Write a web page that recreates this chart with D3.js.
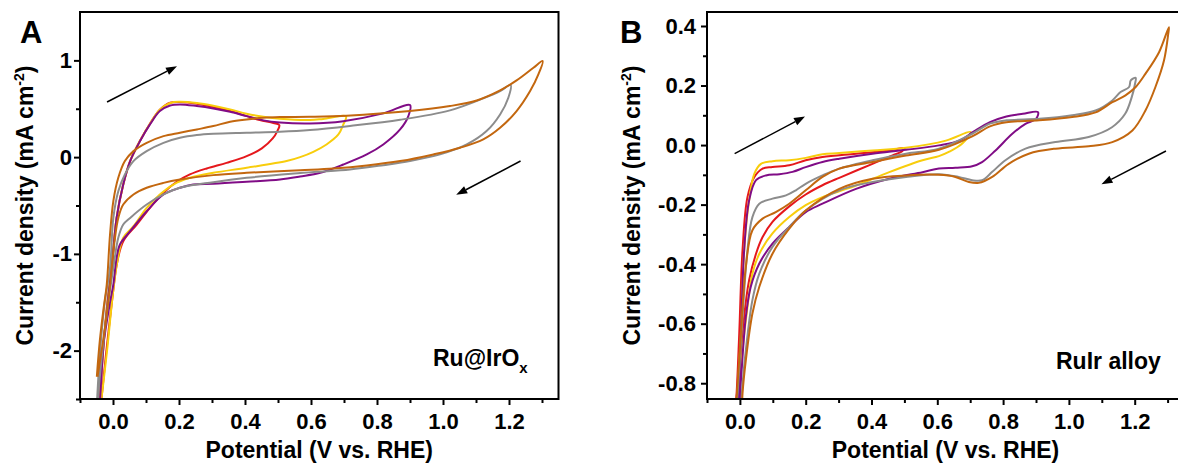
<!DOCTYPE html>
<html>
<head>
<meta charset="utf-8">
<script src="https://cdn.jsdelivr.net/npm/d3@7"></script>
<style>
  body { margin: 0; background: #fff; }
  svg text { font-family: "Liberation Sans", Arial, sans-serif; font-weight: bold; fill: #000; }
</style>
</head>
<body>
<svg id="chart" width="1178" height="463"></svg>
<script>
// ---- data: [potential (V vs. RHE), current density (mA cm-2)] ----
const COLORS = { red: '#e5181c', yellow: '#f8cd0c', purple: '#800c86', gray: '#8c8c8c', orange: '#c3670f' };

// Panel A: Ru@IrOx
const A_RED = [[-0.040,-2.5],[-0.030,-2.0],[-0.017,-1.5],[-0.004,-1.145],[0.011,-0.627],[0.031,-0.283],[0.052,-0.041],[0.082,0.17],[0.112,0.345],[0.142,0.49],[0.173,0.562],[0.203,0.569],[0.254,0.552],[0.304,0.517],[0.355,0.476],[0.405,0.424],[0.445,0.383],[0.486,0.352],[0.504,0.331],
  [0.498,0.269],[0.484,0.193],[0.451,0.09],[0.405,0.01],[0.344,-0.059],[0.284,-0.117],[0.233,-0.179],[0.193,-0.255],[0.153,-0.369],[0.112,-0.524],[0.072,-0.697],[0.031,-0.869],[0.012,-1.1],[0.0,-1.4],[-0.02,-2.0],[-0.035,-2.5]];
const A_YELLOW = [[-0.040,-2.5],[-0.030,-2.0],[-0.017,-1.5],[-0.004,-1.145],[0.011,-0.627],[0.031,-0.283],[0.052,-0.041],[0.082,0.17],[0.112,0.345],[0.142,0.49],[0.173,0.56],[0.203,0.572],[0.254,0.559],[0.304,0.531],[0.355,0.493],[0.405,0.448],[0.456,0.417],[0.506,0.396],[0.597,0.383],[0.637,0.395],[0.706,0.421],
  [0.698,0.338],[0.683,0.234],[0.647,0.131],[0.607,0.055],[0.567,0.0],[0.526,-0.041],[0.405,-0.11],[0.304,-0.162],[0.233,-0.214],[0.183,-0.283],[0.142,-0.386],[0.102,-0.524],[0.062,-0.714],[0.031,-0.834],[0.012,-1.1],[0.0,-1.4],[-0.018,-2.0],[-0.035,-2.5]];
const A_PURPLE = [[-0.039,-2.5],[-0.030,-2.0],[-0.016,-1.5],[-0.004,-1.145],[0.011,-0.627],[0.031,-0.283],[0.052,-0.041],[0.082,0.166],[0.112,0.338],[0.142,0.476],[0.173,0.534],[0.203,0.545],[0.254,0.528],[0.304,0.503],[0.355,0.469],[0.405,0.424],[0.456,0.38],[0.506,0.358],[0.597,0.348],[0.698,0.372],[0.819,0.452],[0.9,0.538],
  [0.895,0.424],[0.87,0.286],[0.819,0.131],[0.769,0.028],[0.698,-0.076],[0.628,-0.162],[0.567,-0.2],[0.506,-0.231],[0.405,-0.255],[0.304,-0.276],[0.243,-0.283],[0.203,-0.317],[0.153,-0.386],[0.102,-0.559],[0.052,-0.766],[0.021,-0.903],[0.011,-1.041],[0.001,-1.317],[-0.009,-1.5],[-0.031,-2.0],[-0.039,-2.5]];
const A_GRAY = [[-0.048,-2.5],[-0.039,-2.0],[-0.025,-1.5],[-0.009,-1.145],[0.001,-0.627],[0.016,-0.352],[0.036,-0.179],[0.062,-0.041],[0.102,0.062],[0.153,0.148],[0.203,0.2],[0.254,0.228],[0.304,0.241],[0.405,0.252],[0.506,0.262],[0.597,0.28],[0.718,0.322],[0.87,0.386],[1.021,0.483],[1.122,0.607],[1.173,0.683],[1.205,0.745],
  [1.198,0.614],[1.173,0.441],[1.132,0.269],[1.072,0.131],[0.991,0.028],[0.9,-0.041],[0.819,-0.083],[0.718,-0.128],[0.617,-0.152],[0.567,-0.165],[0.405,-0.214],[0.304,-0.259],[0.203,-0.317],[0.153,-0.386],[0.102,-0.49],[0.052,-0.628],[0.031,-0.697],[0.016,-0.834],[0.001,-1.145],[-0.018,-1.6],[-0.035,-2.1],[-0.046,-2.5]];
const A_ORANGE = [[-0.049,-2.27],[-0.040,-1.9],[-0.028,-1.55],[-0.019,-1.32],[-0.009,-0.8],[0.001,-0.455],[0.016,-0.214],[0.036,-0.041],[0.062,0.062],[0.102,0.148],[0.153,0.217],[0.203,0.252],[0.254,0.286],[0.304,0.321],[0.355,0.366],[0.405,0.39],[0.456,0.407],[0.506,0.414],[0.597,0.417],[0.708,0.428],[0.9,0.476],[1.021,0.528],[1.102,0.586],[1.173,0.69],[1.223,0.793],[1.274,0.924],[1.302,0.993],
  [1.289,0.855],[1.264,0.683],[1.223,0.476],[1.173,0.303],[1.122,0.183],[1.052,0.097],[0.971,0.028],[0.87,-0.041],[0.769,-0.086],[0.668,-0.117],[0.567,-0.135],[0.405,-0.162],[0.304,-0.186],[0.203,-0.231],[0.153,-0.266],[0.102,-0.317],[0.062,-0.386],[0.031,-0.49],[0.016,-0.628],[0.006,-0.834],[-0.004,-1.145],[-0.014,-1.49],[-0.030,-1.9],[-0.047,-2.27]];

// Panel B: RuIr alloy
const B_RED = [[-0.012,-0.86],[-0.010,-0.834],[-0.002,-0.633],[0.008,-0.353],[0.023,-0.175],[0.044,-0.107],[0.069,-0.079],[0.099,-0.074],[0.15,-0.068],[0.2,-0.051],[0.251,-0.04],[0.353,-0.029],[0.454,-0.018],[0.5,-0.01],
  [0.494,-0.02],[0.464,-0.035],[0.403,-0.063],[0.302,-0.11],[0.251,-0.135],[0.2,-0.166],[0.15,-0.206],[0.099,-0.258],[0.069,-0.309],[0.049,-0.365],[0.028,-0.454],[0.013,-0.577],[-0.002,-0.834],[-0.004,-0.86]];
const B_YELLOW = [[-0.009,-0.86],[-0.007,-0.834],[0.003,-0.633],[0.013,-0.353],[0.028,-0.186],[0.044,-0.096],[0.064,-0.063],[0.099,-0.054],[0.15,-0.051],[0.2,-0.043],[0.251,-0.031],[0.302,-0.027],[0.403,-0.018],[0.505,-0.009],[0.626,0.015],[0.701,0.044],
  [0.676,0.005],[0.635,-0.023],[0.605,-0.037],[0.555,-0.051],[0.454,-0.091],[0.353,-0.136],[0.302,-0.155],[0.251,-0.175],[0.2,-0.202],[0.15,-0.242],[0.099,-0.297],[0.059,-0.365],[0.038,-0.432],[0.023,-0.544],[0.008,-0.689],[-0.002,-0.834],[-0.004,-0.86]];
const B_PURPLE = [[-0.006,-0.86],[-0.004,-0.834],[0.003,-0.633],[0.013,-0.353],[0.028,-0.186],[0.049,-0.118],[0.079,-0.102],[0.12,-0.098],[0.16,-0.09],[0.2,-0.074],[0.251,-0.057],[0.302,-0.046],[0.403,-0.029],[0.505,-0.016],[0.605,-0.001],[0.669,0.016],[0.709,0.044],[0.76,0.077],[0.81,0.096],[0.86,0.105],[0.906,0.111],
  [0.9,0.088],[0.868,0.071],[0.828,0.038],[0.777,-0.018],[0.736,-0.057],[0.706,-0.071],[0.655,-0.076],[0.605,-0.079],[0.555,-0.091],[0.454,-0.113],[0.353,-0.147],[0.251,-0.197],[0.2,-0.225],[0.15,-0.275],[0.099,-0.331],[0.059,-0.398],[0.033,-0.476],[0.018,-0.577],[0.006,-0.745],[0.001,-0.834],[0.0,-0.86]];
const B_GRAY = [[-0.009,-0.86],[-0.007,-0.834],[0.008,-0.577],[0.023,-0.353],[0.038,-0.242],[0.059,-0.197],[0.099,-0.18],[0.14,-0.169],[0.17,-0.152],[0.2,-0.13],[0.251,-0.102],[0.302,-0.079],[0.403,-0.051],[0.505,-0.029],[0.605,-0.012],[0.706,0.038],[0.76,0.072],[0.81,0.083],[0.91,0.088],[1.01,0.1],[1.081,0.116],[1.132,0.15],[1.157,0.178],[1.183,0.195],[1.188,0.217],[1.203,0.226],
  [1.201,0.206],[1.191,0.161],[1.171,0.105],[1.131,0.06],[1.06,0.027],[0.959,0.01],[0.868,-0.012],[0.807,-0.051],[0.767,-0.09],[0.736,-0.118],[0.706,-0.118],[0.665,-0.107],[0.605,-0.098],[0.505,-0.107],[0.403,-0.124],[0.302,-0.152],[0.2,-0.22],[0.15,-0.275],[0.099,-0.342],[0.059,-0.432],[0.038,-0.521],[0.018,-0.689],[0.006,-0.834],[0.005,-0.86]];
const B_ORANGE = [[-0.011,-0.86],[-0.009,-0.834],[0.003,-0.633],[0.018,-0.409],[0.038,-0.286],[0.069,-0.247],[0.109,-0.225],[0.15,-0.197],[0.2,-0.152],[0.251,-0.107],[0.302,-0.079],[0.403,-0.057],[0.505,-0.035],[0.605,-0.016],[0.706,0.029],[0.76,0.063],[0.81,0.077],[0.91,0.083],[1.01,0.094],[1.081,0.11],[1.132,0.144],[1.172,0.167],[1.203,0.195],[1.233,0.24],[1.274,0.312],[1.304,0.396],
  [1.302,0.374],[1.289,0.284],[1.263,0.195],[1.233,0.117],[1.193,0.049],[1.132,0.01],[1.06,-0.004],[0.959,-0.012],[0.878,-0.029],[0.817,-0.063],[0.767,-0.107],[0.726,-0.127],[0.696,-0.124],[0.655,-0.107],[0.605,-0.1],[0.505,-0.102],[0.403,-0.113],[0.302,-0.147],[0.2,-0.22],[0.15,-0.281],[0.099,-0.365],[0.059,-0.476],[0.038,-0.566],[0.018,-0.723],[0.008,-0.834],[0.007,-0.86]];

// sweep direction arrows: [x1, y1, x2, y2]
const A_ARROWS = [[-0.018, 0.57, 0.194, 0.94], [1.235, -0.04, 1.04, -0.39]];
const B_ARROWS = [[-0.016, -0.029, 0.198, 0.096], [1.295, -0.02, 1.099, -0.132]];

// ticks
const X_MAJOR = [0, 0.2, 0.4, 0.6, 0.8, 1.0, 1.2];
const X_MINOR = [-0.1, 0.1, 0.3, 0.5, 0.7, 0.9, 1.1, 1.3];
const A_Y_MAJOR = [-2, -1, 0, 1];
const A_Y_MINOR = [-2.5, -1.5, -0.5, 0.5];
const B_Y_MAJOR = [-0.8, -0.6, -0.4, -0.2, 0.0, 0.2, 0.4];
const B_Y_MINOR = [-0.7, -0.5, -0.3, -0.1, 0.1, 0.3];

const svg = d3.select('#chart');
const defs = svg.append('defs');

// plain hyphen for negatives, like the original figure
const fmt = spec => {
    const f = d3.format(spec);
    return d => f(d).replace('\u2212', '-');
};

function drawArrow(g, x1, y1, x2, y2) {
    const a = Math.atan2(y2 - y1, x2 - x1);
    const L = 11, w = 4;
    const bx = x2 - L * Math.cos(a), by = y2 - L * Math.sin(a);
    g.append('line')
        .attr('x1', x1).attr('y1', y1).attr('x2', bx).attr('y2', by)
        .attr('stroke', '#000').attr('stroke-width', 1.5);
    g.append('path')
        .attr('d', `M${x2},${y2}L${bx + w * Math.sin(a)},${by - w * Math.cos(a)}L${bx - w * Math.sin(a)},${by + w * Math.cos(a)}Z`)
        .attr('fill', '#000');
}

function drawPanel(p) {
    const x = d3.scaleLinear().domain([-0.1, 1.35]).range([p.left, p.right]);
    const y = d3.scaleLinear().domain(p.yDomain).range([p.bottom, p.top]);
    const g = svg.append('g');

    defs.append('clipPath').attr('id', 'clip-' + p.id)
        .append('rect')
        .attr('x', p.left).attr('y', p.top)
        .attr('width', p.right - p.left).attr('height', p.bottom - p.top);

    const line = d3.line()
        .x(d => x(d[0]))
        .y(d => y(d[1]))
        .curve(d3.curveCatmullRom.alpha(0.5));

    const curves = g.append('g').attr('clip-path', `url(#clip-${p.id})`);
    p.series.forEach(s => {
        curves.append('path')
            .attr('d', line(s.data))
            .attr('fill', 'none')
            .attr('stroke', s.color)
            .attr('stroke-width', 2)
            .attr('stroke-linejoin', 'round');
    });

    p.arrows.forEach(a => drawArrow(g, x(a[0]), y(a[1]), x(a[2]), y(a[3])));

    // frame
    g.append('rect')
        .attr('x', p.left).attr('y', p.top)
        .attr('width', p.right - p.left).attr('height', p.bottom - p.top)
        .attr('fill', 'none').attr('stroke', '#000').attr('stroke-width', 2);

    // x axis
    const xAxis = g.append('g').attr('transform', `translate(0,${p.bottom})`)
        .call(d3.axisBottom(x).tickValues(X_MAJOR).tickFormat(fmt('.1f')).tickSize(6).tickSizeOuter(0).tickPadding(8));
    g.append('g').attr('transform', `translate(0,${p.bottom})`)
        .call(d3.axisBottom(x).tickValues(X_MINOR).tickFormat('').tickSize(4).tickSizeOuter(0));

    // y axis
    const yAxis = g.append('g').attr('transform', `translate(${p.left},0)`)
        .call(d3.axisLeft(y).tickValues(p.yMajor).tickFormat(p.yFormat).tickSize(6).tickSizeOuter(0).tickPadding(p.yPad));
    g.append('g').attr('transform', `translate(${p.left},0)`)
        .call(d3.axisLeft(y).tickValues(p.yMinor).tickFormat('').tickSize(4).tickSizeOuter(0));

    g.selectAll('.domain').remove();
    g.selectAll('.tick line').attr('stroke', '#000').attr('stroke-width', 2);
    g.selectAll('.tick text').attr('font-size', 22).attr('font-family', null).style('fill', '#000');
    xAxis.attr('font-family', null).attr('font-size', null);
    yAxis.attr('font-family', null).attr('font-size', null);

    // axis titles
    g.append('text')
        .attr('x', x(0.625)).attr('y', 458)
        .attr('text-anchor', 'middle')
        .attr('font-size', 23)
        .text('Potential (V vs. RHE)');

    const yt = g.append('text')
        .attr('transform', `translate(${p.yTitleX},${(p.top + p.bottom) / 2}) rotate(-90)`)
        .attr('text-anchor', 'middle')
        .attr('font-size', 23);
    yt.append('tspan').text('Current density (mA cm');
    yt.append('tspan').attr('font-size', 14).attr('dy', -9).text('-2');
    yt.append('tspan').attr('dy', 9).text(')');

    // panel letter
    g.append('text')
        .attr('x', p.letterX).attr('y', 43)
        .attr('font-size', 31)
        .text(p.id);

    return { x, y, g };
}

const pa = drawPanel({
    id: 'A', left: 80, right: 558.5, top: 12, bottom: 399,
    yDomain: [-2.5, 1.5], yMajor: A_Y_MAJOR, yMinor: A_Y_MINOR, yFormat: fmt('d'), yPad: 2,
    yTitleX: 33, letterX: 20,
    arrows: A_ARROWS,
    series: [
        { color: COLORS.red, data: A_RED },
        { color: COLORS.yellow, data: A_YELLOW },
        { color: COLORS.purple, data: A_PURPLE },
        { color: COLORS.gray, data: A_GRAY },
        { color: COLORS.orange, data: A_ORANGE }
    ]
});

const pb = drawPanel({
    id: 'B', left: 707, right: 707 + 1.45 * 329, top: 12, bottom: 399,
    yDomain: [-0.853, 0.447], yMajor: B_Y_MAJOR, yMinor: B_Y_MINOR, yFormat: fmt('.1f'), yPad: 5,
    yTitleX: 640, letterX: 620,
    arrows: B_ARROWS,
    series: [
        { color: COLORS.red, data: B_RED },
        { color: COLORS.yellow, data: B_YELLOW },
        { color: COLORS.purple, data: B_PURPLE },
        { color: COLORS.gray, data: B_GRAY },
        { color: COLORS.orange, data: B_ORANGE }
    ]
});

// sample labels
const la = pa.g.append('text').attr('x', 433).attr('y', 366).attr('font-size', 23);
la.append('tspan').text('Ru@IrO');
la.append('tspan').attr('font-size', 15).attr('dy', 7).text('x');

pb.g.append('text').attr('x', 1056).attr('y', 369).attr('font-size', 23).text('RuIr alloy');
</script>
</body>
</html>
